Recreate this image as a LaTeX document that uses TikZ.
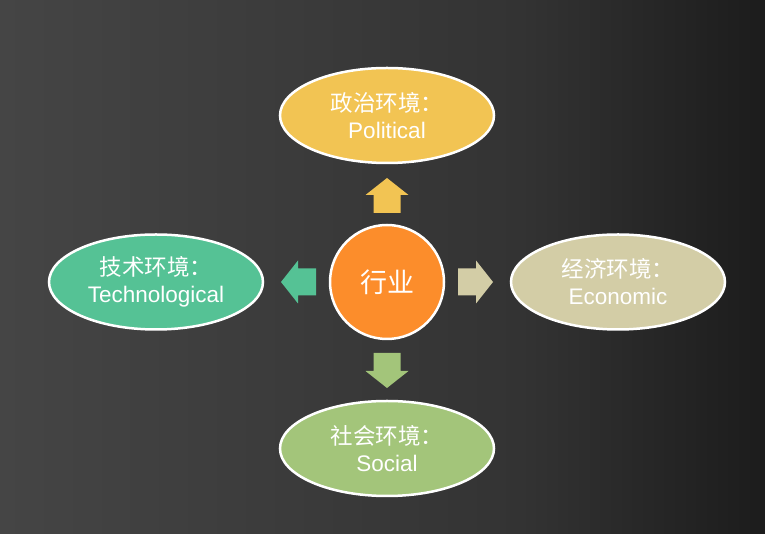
\documentclass[tikz,border=0pt]{standalone}
\usepackage{fontspec}
\setmainfont{Liberation Sans}
\newfontfamily\cjk{Noto Sans CJK SC}
\usetikzlibrary{shapes.geometric, positioning}

\definecolor{bgLight}{HTML}{454545}
\definecolor{bgMid}{HTML}{333333}
\definecolor{bgDark}{HTML}{1C1C1C}
\definecolor{hubColor}{HTML}{FC8D2B}
\definecolor{polColor}{HTML}{F2C453}
\definecolor{ecoColor}{HTML}{D3CDA6}
\definecolor{socColor}{HTML}{A3C57A}
\definecolor{techColor}{HTML}{55C295}

\begin{document}
\begin{tikzpicture}[
        x=1pt, y=1pt,
        node distance=62pt and 67pt,
        env/.style={ellipse, draw=white, line width=2.5pt, inner sep=0pt, outer sep=0pt, align=center, text=white, minimum width=214pt, minimum height=95pt, font=\fontsize{22.5}{27}\selectfont},
        hub/.style={circle, draw=white, line width=2.5pt, fill=hubColor, inner sep=0pt, outer sep=0pt, minimum size=114pt, text=white, font=\cjk\fontsize{27}{30}\selectfont},
        blockarrow/.pic={\fill[#1] (0,-13.5) -- (18,-13.5) -- (18,-21.5) -- (35,0) -- (18,21.5) -- (18,13.5) -- (0,13.5) -- cycle;}
    ]
        % Backdrop
        \useasboundingbox (0,0) rectangle (765,534);
        \shade[left color=bgLight, right color=bgMid] (0,0) rectangle (520,534);
        \shade[left color=bgMid, right color=bgDark] (520,0) rectangle (765,534);

        % Centre
        \node[hub] (hub) at (387,252) {行业};

        % Environments
        \node[env, fill=polColor, above=of hub] (pol) {{\cjk 政治环境：}\\Political};
        \node[env, fill=socColor, below=of hub] (soc) {{\cjk 社会环境：}\\Social};
        \node[env, fill=techColor, left=of hub] (tech) {{\cjk 技术环境：}\\Technological};
        \node[env, fill=ecoColor, right=of hub] (eco) {{\cjk 经济环境：}\\Economic};

        % Arrows
        \pic[rotate=90] (upArrow) at ([yshift=12pt]hub.north) {blockarrow=polColor};
        \pic[rotate=-90] (downArrow) at ([yshift=-14pt]hub.south) {blockarrow=socColor};
        \pic[rotate=180] (leftArrow) at ([xshift=-14pt]hub.west) {blockarrow=techColor};
        \pic (rightArrow) at ([xshift=14pt]hub.east) {blockarrow=ecoColor};
    \end{tikzpicture}
\end{document}
